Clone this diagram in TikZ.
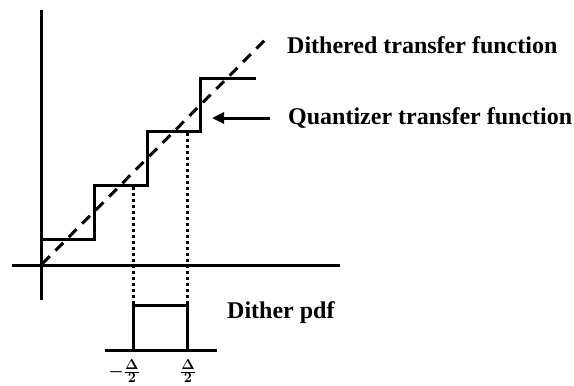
\documentclass[tikz,border=0pt]{standalone}
\usepackage{fontspec}
\setmainfont{Liberation Serif}
\usetikzlibrary{arrows.meta}
\begin{document}
\begin{tikzpicture}[x=1pt,y=-1pt,
  thick line/.style={line width=3pt},
  dash line/.style={line width=3pt, dash pattern=on 11pt off 8pt},
  dot line/.style={line width=3pt, dash pattern=on 3pt off 3pt},
  lbl/.style={font=\fontsize{24}{26}\selectfont\bfseries, anchor=west, inner sep=0pt},
  frac/.style={font=\fontsize{19}{19}\selectfont\boldmath, inner sep=0pt}]
\useasboundingbox (0,0) rectangle (574,386);
% axes
\coordinate (yb) at (41,300);
\coordinate (yt) at (41,10);
\coordinate (xl) at (12,265);
\coordinate (xr) at (340,265);
\draw[thick line] (yb) -- (yt);
\draw[thick line] (xl) -- (xr);
% dithered line
\coordinate (d0) at (42,264);
\coordinate (d1) at (265,40);
\draw[dash line] (d0) -- (d1);
% staircase
\coordinate (s0) at (41,239);
\coordinate (s1) at (94,239);
\coordinate (s2) at (94,185);
\coordinate (s3) at (147,185);
\coordinate (s4) at (147,131);
\coordinate (s5) at (200,131);
\coordinate (s6) at (200,78);
\coordinate (s7) at (256,78);
\draw[thick line] (s0) -- (s1) -- (s2) -- (s3) -- (s4) -- (s5) -- (s6) -- (s7);
% pdf
\coordinate (pl) at (105,350);
\coordinate (pr) at (217,350);
\coordinate (pa) at (133,350);
\coordinate (pb) at (133,305);
\coordinate (pc) at (187,305);
\coordinate (pd) at (187,350);
\draw[thick line] (pl) -- (pr);
\draw[thick line] (pa) -- (pb) -- (pc) -- (pd);
% dotted
\coordinate (t1) at (133,187);
\coordinate (t2) at (187,133);
\draw[dot line] (t1) -- (pb);
\draw[dot line] (t2) -- (pc);
% arrow
\coordinate (a0) at (270,118);
\coordinate (a1) at (212,118);
\draw[thick line, -{Triangle[length=12pt,width=11pt]}] (a0) -- (a1);
% labels
\node[lbl] (ldith) at (287,45) {Dithered transfer function};
\node[lbl] (lquant) at (288,118) {Quantizer transfer function};
\node[lbl] (lpdf) at (227,313) {Dither pdf};
\node[frac, anchor=north east] (lm) at (140,359) {$-\frac{\Delta}{2}$};
\node[frac, anchor=north] (lp) at (188,359) {$\frac{\Delta}{2}$};
\end{tikzpicture}
\end{document}
